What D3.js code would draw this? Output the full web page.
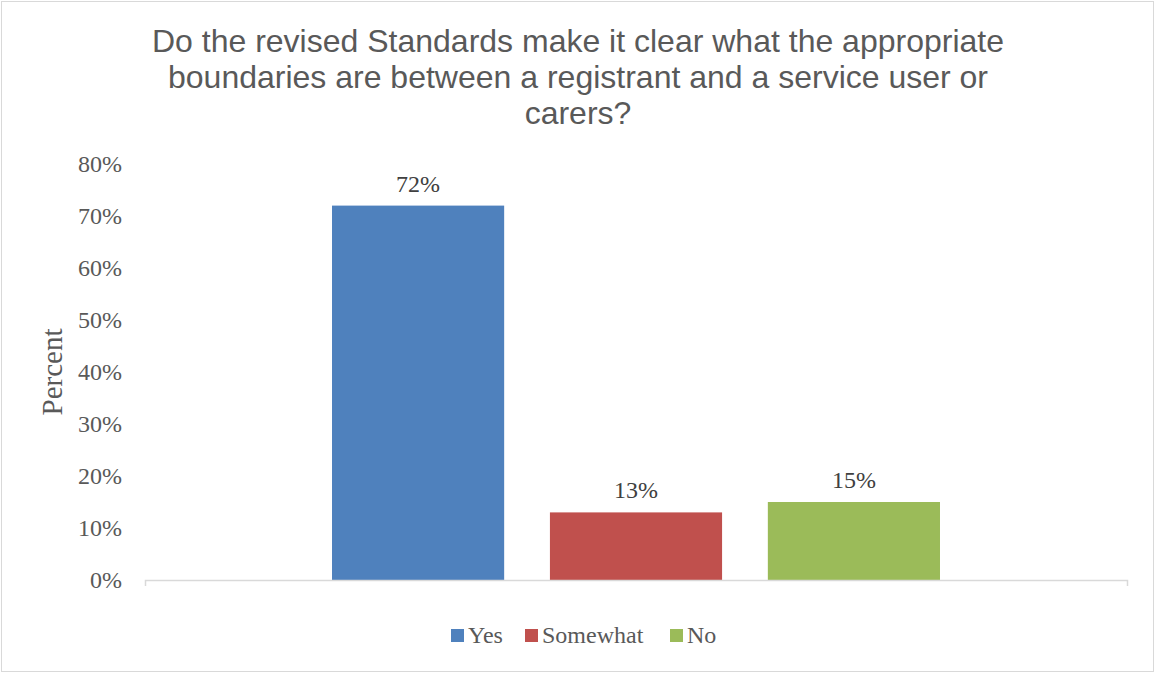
<!DOCTYPE html>
<html>
<head>
<meta charset="utf-8">
<script src="https://cdn.jsdelivr.net/npm/d3@7"></script>
<style>
  html, body { margin: 0; padding: 0; background: #fff; }
  svg { display: block; }
</style>
</head>
<body>
<svg id="chart" width="1155" height="673"></svg>
<script>
// Survey responses
const categories = ["Yes", "Somewhat", "No"];
const values = [72, 13, 15];
const colors = ["#4F81BD", "#C0504D", "#9BBB59"];
const yTicks = [0, 10, 20, 30, 40, 50, 60, 70, 80];
const titleLines = [
  "Do the revised Standards make it clear what the appropriate",
  "boundaries are between a registrant and a service user or",
  "carers?"
];

const W = 1155, H = 673;
const margin = { top: 164, right: 28, bottom: 93, left: 145 };
const svg = d3.select("#chart");
const serif = "'Liberation Serif', 'DejaVu Serif', serif";
const sans = "'Liberation Sans', Arial, sans-serif";
const textColor = "#595959";

// chart border
svg.append("rect")
  .attr("x", 1.5).attr("y", 1.5)
  .attr("width", W - 3).attr("height", H - 3)
  .attr("fill", "#fff").attr("stroke", "#D9D9D9").attr("stroke-width", 1);

// title
svg.append("g").selectAll("text")
  .data(titleLines).join("text")
  .attr("x", 578)
  .attr("y", (d, i) => 52 + i * 36)
  .attr("text-anchor", "middle")
  .attr("font-family", sans)
  .attr("font-size", 32)
  .attr("fill", textColor)
  .text(d => d);

const plotLeft = margin.left, plotRight = W - margin.right;
const plotTop = margin.top, plotBottom = H - margin.bottom;

const y = d3.scaleLinear().domain([0, 80]).range([plotBottom, plotTop]);

// single category group holding the three series
const x0 = d3.scaleBand().domain(["all"]).range([plotLeft, plotRight]).paddingOuter(0.3076).paddingInner(0);
const x1 = d3.scaleBand().domain(categories).range([0, x0.bandwidth()]).paddingInner(0.21).paddingOuter(0);

// y axis labels (no line)
const yAxis = d3.axisLeft(y).tickValues(yTicks).tickFormat(d => d + "%").tickSize(0).tickPadding(23);
const gy = svg.append("g").attr("transform", `translate(${plotLeft},0)`).call(yAxis);
gy.select(".domain").remove();
gy.selectAll("text")
  .attr("font-family", serif)
  .attr("font-size", 24)
  .attr("fill", textColor);

// bars
const g = svg.append("g").attr("transform", `translate(${x0("all")},0)`);
g.selectAll("rect")
  .data(categories).join("rect")
  .attr("x", d => x1(d))
  .attr("y", (d, i) => y(values[i]))
  .attr("width", x1.bandwidth())
  .attr("height", (d, i) => y(0) - y(values[i]))
  .attr("fill", (d, i) => colors[i]);

// data labels
g.selectAll("text.lbl")
  .data(categories).join("text")
  .attr("class", "lbl")
  .attr("x", d => x1(d) + x1.bandwidth() / 2)
  .attr("y", (d, i) => y(values[i]) - 14)
  .attr("text-anchor", "middle")
  .attr("font-family", serif)
  .attr("font-size", 24)
  .attr("fill", "#404040")
  .text((d, i) => values[i] + "%");

// x axis baseline with end ticks
const xAxis = d3.axisBottom(x0).tickValues([]).tickSizeOuter(6);
const gx = svg.append("g").attr("transform", `translate(0,${plotBottom})`).call(xAxis);
gx.select(".domain").attr("stroke", "#D9D9D9").attr("stroke-width", 1.5);

// y-axis title
svg.append("text")
  .attr("transform", `translate(62,372) rotate(-90)`)
  .attr("text-anchor", "middle")
  .attr("font-family", serif)
  .attr("font-size", 29)
  .attr("fill", textColor)
  .text("Percent");

// legend
const legendX = [451, 525, 670];
const lg = svg.append("g");
categories.forEach((c, i) => {
  lg.append("rect")
    .attr("x", legendX[i]).attr("y", 629)
    .attr("width", 13).attr("height", 13)
    .attr("fill", colors[i]);
  lg.append("text")
    .attr("x", legendX[i] + 17).attr("y", 643)
    .attr("font-family", serif)
    .attr("font-size", 24)
    .attr("fill", textColor)
    .text(c);
});
</script>
</body>
</html>
